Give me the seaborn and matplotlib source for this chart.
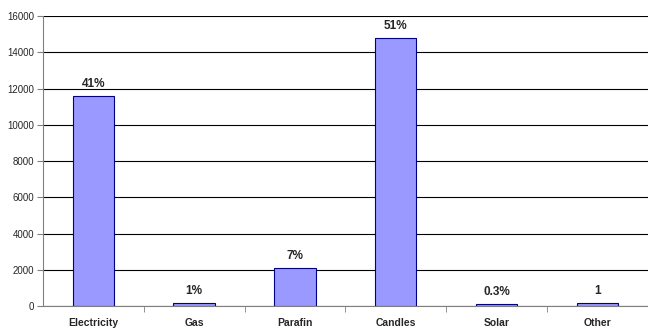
import matplotlib
matplotlib.use("Agg")
import matplotlib.pyplot as plt
import seaborn as sns
import pandas as pd

categories = ["Electricity", "Gas", "Parafin", "Candles", "Solar", "Other"]
values = [11600, 180, 2100, 14780, 90, 190]
labels = ["41%", "1%", "7%", "51%", "0.3%", "1"]

df = pd.DataFrame({"cat": categories, "val": values})

sns.set_style("white")
plt.rcParams["font.family"] = ["Liberation Sans", "DejaVu Sans"]

fig, ax = plt.subplots(figsize=(6.48, 3.29), dpi=100)
fig.subplots_adjust(left=0.066, right=1.0, top=0.951, bottom=0.07)

sns.barplot(data=df, x="cat", y="val", color="#9999FF", saturation=1,
            width=0.41, edgecolor="#000080", linewidth=0.8, ax=ax)

for i, (v, lab) in enumerate(zip(values, labels)):
    ax.text(i, v + 330, lab, ha="center", va="bottom", fontsize=8.5, fontweight="bold")

ax.set_ylim(0, 16000)
ax.set_xlim(-0.5, 5.5)
ax.set_yticks(range(0, 16001, 2000))
ax.yaxis.grid(True, color="black", linewidth=0.8)
ax.set_axisbelow(True)
ax.set_xlabel("")
ax.set_ylabel("")
for s in ["top", "right"]:
    ax.spines[s].set_visible(False)
ax.spines["left"].set_color("#808080")
ax.spines["bottom"].set_color("#808080")
ax.tick_params(axis="y", labelsize=7, length=4, color="#808080", left=True, pad=2)
ax.set_xticks([i + 0.5 for i in range(5)], minor=True)
ax.tick_params(axis="x", which="major", length=0, labelsize=7.5, pad=9)
ax.tick_params(axis="x", which="minor", length=4, color="#808080", bottom=True)
for t in ax.get_xticklabels():
    t.set_fontweight("bold")

fig.savefig("out.png", dpi=100)
